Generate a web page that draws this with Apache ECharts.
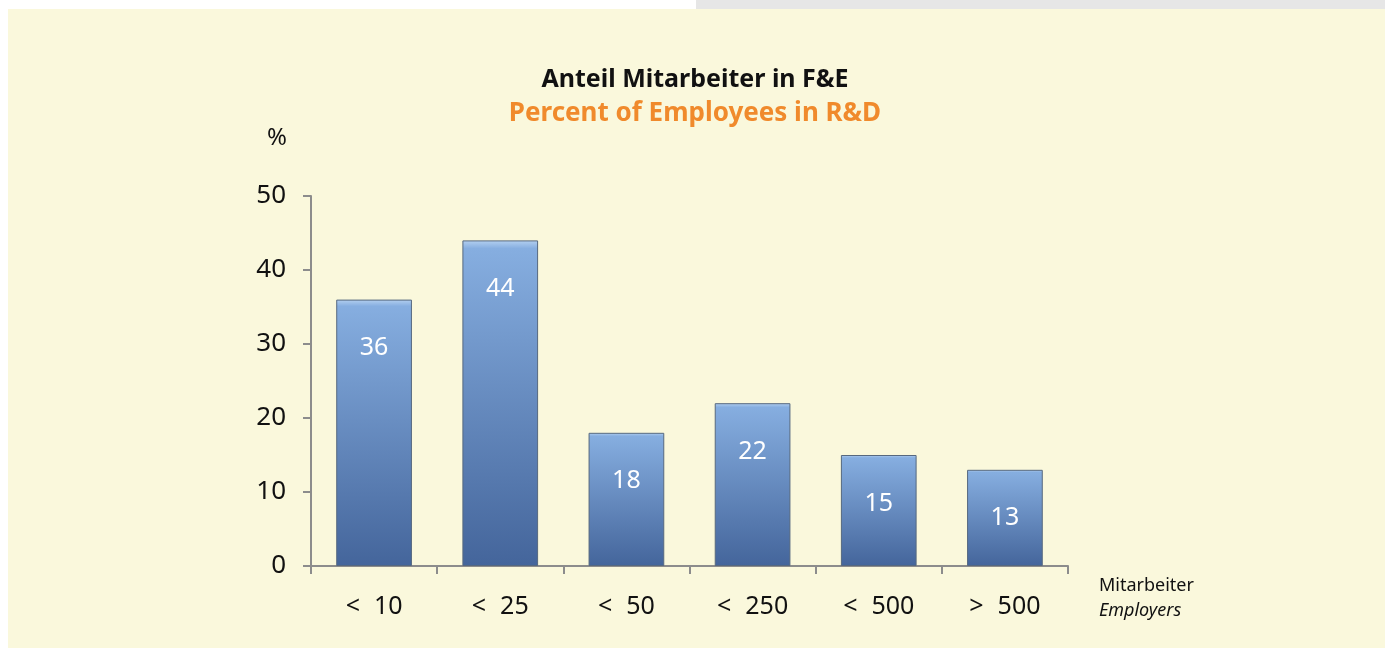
<!DOCTYPE html>
<html>
<head>
<meta charset="utf-8">
<script src="https://cdn.jsdelivr.net/npm/echarts@6/dist/echarts.min.js"></script>
<style>
  html, body { margin: 0; padding: 0; background: #ffffff; }
  #chart { width: 1390px; height: 648px; }
</style>
</head>
<body>
<div id="chart"></div>
<script>
var groups = ['< 10', '< 25', '< 50', '< 250', '< 500', '> 500'];
var shares = [36, 44, 18, 22, 15, 13];

var myChart = echarts.init(document.getElementById('chart'));
var font = '"Noto Sans", "Open Sans", sans-serif';

var option = {
    backgroundColor: '#ffffff',
    textStyle: { fontFamily: font },
    graphic: [
        { type: 'rect', z: -10, silent: true, shape: { x: 696, y: 0, width: 689, height: 9 }, style: { fill: '#e6e6e6' } },
        { type: 'rect', z: -10, silent: true, shape: { x: 8, y: 9, width: 1377, height: 639 }, style: { fill: '#faf8dc' } }
    ],
    title: {
        text: 'Anteil Mitarbeiter in F&E',
        subtext: 'Percent of Employees in R&D',
        left: 'center',
        top: 62,
        itemGap: 9,
        textStyle: { fontFamily: font, fontSize: 25, fontWeight: 'bold', color: '#111111' },
        subtextStyle: { fontFamily: font, fontSize: 26, fontWeight: 'bold', color: '#f08a2c' }
    },
    grid: { left: 311, right: 322, top: 196, bottom: 82, containLabel: false },
    xAxis: {
        type: 'category',
        data: groups,
        name: 'Mitarbeiter\n{i|Employers}',
        nameLocation: 'end',
        nameGap: 31,
        nameTextStyle: {
            fontFamily: font, fontSize: 18, color: '#111111', lineHeight: 25,
            align: 'left', verticalAlign: 'top', padding: [7, 0, 0, 0],
            rich: { i: { fontFamily: font, fontSize: 18, fontStyle: 'italic', color: '#111111', lineHeight: 25 } }
        },
        axisLine: { lineStyle: { color: '#8c8c8c', width: 2 } },
        axisTick: { show: true, length: 8, lineStyle: { color: '#8c8c8c', width: 2 } },
        axisLabel: {
            margin: 28,
            formatter: function (value) {
                var parts = value.split(' ');
                return '{s|' + parts[0] + '}{n|' + parts[1] + '}';
            },
            rich: {
                s: { fontFamily: font, fontSize: 25, color: '#111111', padding: [0, 14, 0, 0] },
                n: { fontFamily: font, fontSize: 25, color: '#111111' }
            }
        }
    },
    yAxis: {
        type: 'value',
        min: 0,
        max: 50,
        interval: 10,
        name: '%',
        nameLocation: 'end',
        nameGap: 46,
        nameTextStyle: { fontFamily: font, fontSize: 24, color: '#111111', align: 'right', padding: [0, 24, 0, 0] },
        splitLine: { show: false },
        axisLine: { show: true, lineStyle: { color: '#8c8c8c', width: 2 } },
        axisTick: { show: true, length: 8, lineStyle: { color: '#8c8c8c', width: 2 } },
        axisLabel: { fontFamily: font, fontSize: 26, color: '#111111', margin: 25 }
    },
    series: [{
        type: 'bar',
        data: shares,
        barWidth: '60%',
        itemStyle: {
            color: new echarts.graphic.LinearGradient(0, 0, 0, 1, [
                { offset: 0, color: '#b4d0f0' },
                { offset: 0.025, color: '#86aee0' },
                { offset: 1, color: '#44659b' }
            ]),
            borderColor: '#56687f',
            borderWidth: 1
        },
        label: {
            show: true,
            position: 'insideTop',
            distance: 36,
            fontFamily: font,
            fontSize: 25,
            color: '#ffffff'
        }
    }]
};

myChart.setOption(option);
</script>
</body>
</html>
